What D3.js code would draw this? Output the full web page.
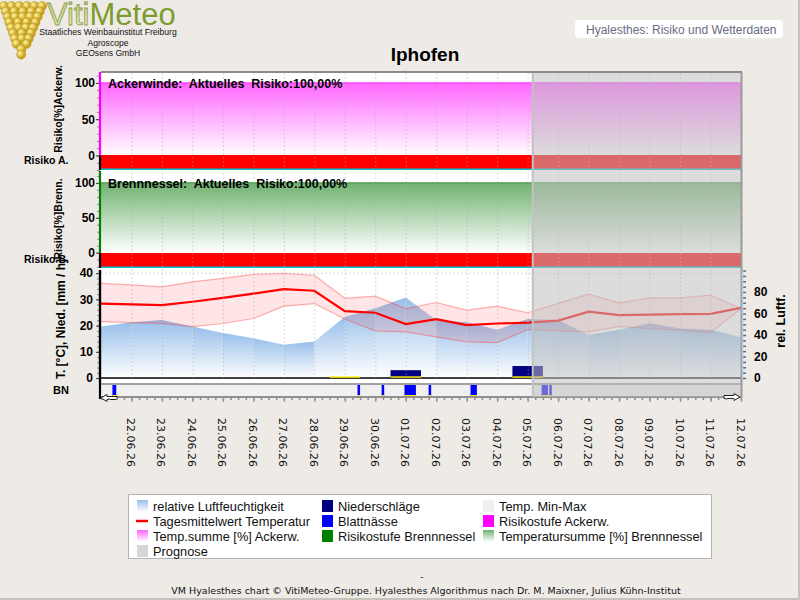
<!DOCTYPE html>
<html>
<head>
<meta charset="utf-8">
<title>Hyalesthes Iphofen</title>
<script src="https://cdn.jsdelivr.net/npm/d3@7/dist/d3.min.js"></script>
<style>
  body { margin: 0; background: #eeebe7; }
  svg { display: block; font-family: "Liberation Sans", Arial, sans-serif; }
</style>
</head>
<body>
<svg id="chart" width="800" height="600"></svg>
<script>
// ---- values ----
var stationName = "Iphofen";
var days = ["21.06.26","22.06.26","23.06.26","24.06.26","25.06.26","26.06.26","27.06.26","28.06.26",
            "29.06.26","30.06.26","01.07.26","02.07.26","03.07.26","04.07.26","05.07.26","06.07.26",
            "07.07.26","08.07.26","09.07.26","10.07.26","11.07.26","12.07.26"];
var tempMean = [28.4, 28.1, 27.8, 29.1, 30.6, 32.2, 33.9, 33.3, 25.5, 24.9, 20.6, 22.5,
                20.2, 20.8, 21.1, 21.9, 25.3, 24.0, 24.2, 24.4, 24.5, 26.8];
var tempMax  = [36.1, 35.5, 34.8, 36.7, 38.0, 39.5, 39.9, 39.2, 30.4, 31.2, 26.5, 28.8,
                25.9, 27.4, 24.9, 28.5, 32.0, 28.7, 30.6, 30.6, 31.6, 26.5];
var tempMin  = [21.5, 21.1, 20.8, 19.6, 20.8, 22.7, 27.4, 28.4, 22.5, 18.0, 17.6, 15.7,
                13.8, 13.5, 18.5, 18.0, 17.6, 19.6, 18.9, 18.3, 17.3, 26.5];
var humidity = [48, 52, 54, 48, 42, 37, 31, 34, 57, 65, 75, 54,
                52, 45, 55, 54, 40, 45, 51, 46, 45, 38];
var precipDays = ["29.06.26", "01.07.26", "05.07.26"];
var precipMm   = [0.2, 3.0, 4.6];
var leafWetStart = ["21.06.26 09:00","29.06.26 10:00","30.06.26 05:00","30.06.26 23:00",
                    "01.07.26 18:00","03.07.26 03:00","05.07.26 11:00","05.07.26 17:00"];
var leafWetHours = [3, 2, 2, 9, 2, 5, 5, 2];
var tempSumAckerw = days.map(function() { return 100; });
var tempSumBrenn  = days.map(function() { return 100; });
var riskLevelAckerw = days.slice(1).map(function() { return "hoch"; });
var riskLevelBrenn  = days.slice(1).map(function() { return "hoch"; });
var forecastStart = "05.07.26 04:00";
var riskTicks = [0, 50, 100];
var tempTicks = [0, 10, 20, 30, 40];
var humTicks  = [0, 20, 40, 60, 80];
var legendLabels = ["relative Luftfeuchtigkeit", "Niederschläge", "Temp. Min-Max",
                    "Tagesmittelwert Temperatur", "Blattnässe", "Risikostufe Ackerw.",
                    "Temp.summe [%] Ackerw.", "Risikostufe Brennnessel", "Temperatursumme [%] Brennnessel",
                    "Prognose"];

var riskColor = { hoch: "#ff0000" };

var svg = d3.select("#chart");
var defs = svg.append("defs");

var parseDay = d3.timeParse("%d.%m.%y"),
    parseHour = d3.timeParse("%d.%m.%y %H:%M");
var dayDates = days.map(parseDay);

var left = 101, right = 741;
var x = d3.scaleTime().domain(d3.extent(dayDates)).range([left, right]);

var yA = d3.scaleLinear().domain([-20, 115]).range([170, 72]);
var yB = d3.scaleLinear().domain([-22, 117]).range([268, 171]);
var yT = d3.scaleLinear().domain([-1.5, 41.2]).range([382, 270]);
var yH = d3.scaleLinear().domain([-3.7, 100.5]).range([382, 270]);
var bnTop = 384, bnBottom = 397;

function vGrad(id, top, bottom) {
    var g = defs.append("linearGradient").attr("id", id)
        .attr("x1", 0).attr("y1", 0).attr("x2", 0).attr("y2", 1);
    g.append("stop").attr("offset", "0%").attr("stop-color", top);
    g.append("stop").attr("offset", "100%").attr("stop-color", bottom);
}
vGrad("gPink", "#ff66ff", "#ffffff");
vGrad("gGreen", "#70b270", "#ffffff");
vGrad("gBlue", "#98bfea", "#ffffff");
vGrad("gViti", "#b9c77a", "#eef3cf");
var rg = defs.append("radialGradient").attr("id", "gGrape").attr("cx", "35%").attr("cy", "35%");
rg.append("stop").attr("offset", "0%").attr("stop-color", "#fff6a0");
rg.append("stop").attr("offset", "100%").attr("stop-color", "#c9a21c");

defs.append("clipPath").attr("id", "plotClip")
    .append("rect").attr("x", left).attr("y", 60).attr("width", right - left).attr("height", 345);

// ---- header ----
var logo = svg.append("g");
for (var r = 0; r < 10; r++) {
    var half = Math.max(3, 19 - r * 2);
    var n = Math.floor(2 * half / 7) + 1;
    for (var k = 0; k < n; k++) {
        var cx = 23 - half + (n > 1 ? k * (2 * half) / (n - 1) : half) - r * 0.2;
        logo.append("circle").attr("cx", cx).attr("cy", 6 + r * 5.4).attr("r", 4.6)
            .attr("fill", "url(#gGrape)").attr("stroke", "#b08a18").attr("stroke-width", 0.4);
    }
}
var vm = svg.append("text").attr("x", 47).attr("y", 25).attr("font-size", 31);
vm.append("tspan").text("Viti").attr("fill", "url(#gViti)").attr("stroke", "#8d9c45").attr("stroke-width", 0.8);
vm.append("tspan").text("Meteo").attr("fill", "#7f9b30");
svg.selectAll(".sub").data(["Staatliches Weinbauinstitut Freiburg", "Agroscope", "GEOsens GmbH"])
    .enter().append("text")
    .attr("x", 108).attr("y", function(d, i) { return 35 + i * 10.5; })
    .attr("text-anchor", "middle").attr("font-size", 8.6).attr("fill", "#111")
    .text(function(d) { return d; });

svg.append("rect").attr("x", 575).attr("y", 20).attr("width", 208).attr("height", 18)
    .attr("rx", 4).attr("fill", "#fff");
svg.append("text").attr("x", 586).attr("y", 33.5).attr("font-size", 12).attr("fill", "#6a6a84")
    .text("Hyalesthes: Risiko und Wetterdaten");

svg.append("text").attr("x", 425).attr("y", 61).attr("text-anchor", "middle")
    .attr("font-size", 19).attr("font-weight", "bold").text(stationName);

// ---- plot background ----
svg.append("rect").attr("x", left).attr("y", 72).attr("width", right - left).attr("height", bnBottom - 72)
    .attr("fill", "#fff");
svg.append("rect").attr("x", left).attr("y", bnTop).attr("width", right - left).attr("height", bnBottom - bnTop)
    .attr("fill", "#f0f0f0");

var plot = svg.append("g").attr("clip-path", "url(#plotClip)");

// risk panels
function riskPanel(y, sums, levels, grad, lineColor, title) {
    var pts = dayDates.map(function(d, i) { return { date: d, v: sums[i] }; });
    plot.append("path").datum(pts)
        .attr("fill", "url(#" + grad + ")")
        .attr("d", d3.area().x(function(d) { return x(d.date); }).y0(y(0)).y1(function(d) { return y(d.v); }));
    plot.append("path").datum(pts).attr("fill", "none").attr("stroke", lineColor).attr("stroke-width", 1.2)
        .attr("d", d3.line().x(function(d) { return x(d.date); }).y(function(d) { return y(d.v); }));
    var bottom = y.range()[0];
    plot.selectAll(null).data(levels).enter().append("rect")
        .attr("x", function(d, i) { return x(dayDates[i]); })
        .attr("width", function(d, i) { return x(dayDates[i + 1]) - x(dayDates[i]); })
        .attr("y", y(0)).attr("height", bottom - 1.5 - y(0))
        .attr("fill", function(d) { return riskColor[d]; })
        .attr("shape-rendering", "crispEdges");
    plot.append("line").attr("x1", left).attr("x2", right).attr("y1", bottom - 0.75).attr("y2", bottom - 0.75)
        .attr("stroke", "#00c4d4").attr("stroke-width", 1.5);
    svg.append("text").attr("x", 108).attr("y", y(100) + 5).attr("font-size", 12.5).attr("font-weight", "bold")
        .style("white-space", "pre").text(title);
}
riskPanel(yA, tempSumAckerw, riskLevelAckerw, "gPink", "#ff3cff", "Ackerwinde:  Aktuelles  Risiko:100,00%");
riskPanel(yB, tempSumBrenn, riskLevelBrenn, "gGreen", "#4e9a4e", "Brennnessel:  Aktuelles  Risiko:100,00%");

// weather panel: humidity as one band per day
for (var i = 0; i < dayDates.length - 1; i++) {
    var seg = [{ date: dayDates[i], v: humidity[i] }, { date: dayDates[i + 1], v: humidity[i + 1] }];
    plot.append("path").datum(seg).attr("fill", "url(#gBlue)")
        .attr("d", d3.area().x(function(d) { return x(d.date); }).y0(yH(0)).y1(function(d) { return yH(d.v); }));
}

var temps = dayDates.map(function(d, i) { return { date: d, mean: tempMean[i], min: tempMin[i], max: tempMax[i] }; });
plot.append("path").datum(temps).attr("fill", "rgba(255,0,0,0.1)")
    .attr("d", d3.area().x(function(d) { return x(d.date); })
        .y0(function(d) { return yT(d.min); }).y1(function(d) { return yT(d.max); }));
["min", "max"].forEach(function(key) {
    plot.append("path").datum(temps).attr("fill", "none").attr("stroke", "rgba(255,60,60,0.4)").attr("stroke-width", 1.2)
        .attr("d", d3.line().x(function(d) { return x(d.date); }).y(function(d) { return yT(d[key]); }));
});

// vertical grid
svg.append("g").selectAll("line").data(dayDates.slice(1, -1)).enter().append("line")
    .attr("x1", function(d) { return x(d) + 0.5; }).attr("x2", function(d) { return x(d) + 0.5; })
    .attr("y1", 73).attr("y2", yT(0))
    .attr("stroke", "rgba(170,170,170,0.45)").attr("stroke-dasharray", "2,2");
svg.append("line").attr("x1", left).attr("x2", right).attr("y1", yT(40)).attr("y2", yT(40))
    .attr("stroke", "rgba(170,170,170,0.45)").attr("stroke-dasharray", "2,2");

// precipitation
var precip = precipDays.map(function(d, i) { return { date: parseDay(d), v: precipMm[i] }; });
plot.selectAll(null).data(precip).enter().append("rect")
    .attr("x", function(d) { return x(d3.timeHour.offset(d.date, -12)); })
    .attr("width", function(d) { return x(d3.timeHour.offset(d.date, 12)) - x(d3.timeHour.offset(d.date, -12)); })
    .attr("y", function(d) { return yT(d.v); })
    .attr("height", function(d) { return yT(0) - yT(d.v); })
    .attr("fill", "#000080");
plot.append("line").attr("x1", left).attr("x2", right).attr("y1", yT(0)).attr("y2", yT(0))
    .attr("stroke", "#000").attr("stroke-width", 1.5);
plot.selectAll(null).data(precip).enter().append("line")
    .attr("x1", function(d) { return x(d3.timeHour.offset(d.date, -12)); })
    .attr("x2", function(d) { return x(d3.timeHour.offset(d.date, 12)); })
    .attr("y1", yT(0) - 1).attr("y2", yT(0) - 1)
    .attr("stroke", "#ffee00").attr("stroke-width", 1.5);

// mean temperature
plot.append("path").datum(temps).attr("fill", "none").attr("stroke", "#ff0000").attr("stroke-width", 2.2)
    .attr("d", d3.line().x(function(d) { return x(d.date); }).y(function(d) { return yT(d.mean); }));

// leaf wetness
var wet = leafWetStart.map(function(s, i) {
    var t0 = parseHour(s);
    return { t0: t0, t1: d3.timeHour.offset(t0, leafWetHours[i]) };
});
plot.selectAll(null).data(wet).enter().append("rect")
    .attr("x", function(d) { return x(d.t0); })
    .attr("width", function(d) { return Math.max(2, x(d.t1) - x(d.t0)); })
    .attr("y", bnTop + 1).attr("height", bnBottom - bnTop - 2)
    .attr("fill", "#0000ff");
plot.selectAll(null).data(wet).enter().append("line")
    .attr("x1", function(d) { return x(d.t0); })
    .attr("x2", function(d) { return x(d.t0) + Math.max(2, x(d.t1) - x(d.t0)); })
    .attr("y1", bnBottom - 1.5).attr("y2", bnBottom - 1.5)
    .attr("stroke", "#ffee00").attr("stroke-width", 1);

// BN strip borders
svg.append("line").attr("x1", left).attr("x2", right).attr("y1", bnTop).attr("y2", bnTop)
    .attr("stroke", "#a0a0a0").attr("stroke-width", 2);
svg.append("line").attr("x1", left).attr("x2", right).attr("y1", bnBottom).attr("y2", bnBottom)
    .attr("stroke", "#909090").attr("stroke-width", 2);

// forecast overlay
var fx = x(parseHour(forecastStart));
svg.append("rect").attr("x", fx).attr("y", 72).attr("width", right - fx).attr("height", bnBottom - 72)
    .attr("fill", "rgba(192,192,192,0.55)");
svg.append("line").attr("x1", fx).attr("x2", fx).attr("y1", 72).attr("y2", bnBottom)
    .attr("stroke", "#c2c2c2").attr("stroke-width", 2);

// frame
svg.append("line").attr("x1", left).attr("x2", right + 1).attr("y1", 72).attr("y2", 72)
    .attr("stroke", "#8a8a8a").attr("stroke-width", 2);
svg.append("line").attr("x1", right + 0.5).attr("x2", right + 0.5).attr("y1", 72).attr("y2", bnBottom + 1)
    .attr("stroke", "#9a9a9a").attr("stroke-width", 2);

// scroll arrows
function arrow(cx, cy, dir) {
    var p = [[-8, -1.5], [2, -1.5], [2, -3.5], [8, 0], [2, 3.5], [2, 1.5], [-8, 1.5]];
    svg.append("path")
        .attr("d", d3.line()(p.map(function(q) { return [cx + dir * q[0], cy + q[1]]; })) + "Z")
        .attr("fill", "#fff").attr("stroke", "#222").attr("stroke-width", 1);
}
arrow(109, 398, -1);
arrow(732, 397, 1);

// ---- left axes ----
function leftAxis(y, minor, major, topColor, top, pad) {
    var g = svg.append("g").attr("transform", "translate(100,0)");
    g.call(d3.axisLeft(y).tickValues(minor).tickSize(3).tickFormat(""))
        .call(function(s) { s.select(".domain").remove(); s.selectAll("line").attr("stroke", "#8a8a8a"); });
    var g2 = svg.append("g").attr("transform", "translate(100,0)");
    g2.call(d3.axisLeft(y).tickValues(major).tickSize(4).tickPadding(pad))
        .call(function(s) {
            s.select(".domain").remove();
            s.selectAll("line").attr("stroke", "#444");
            s.selectAll("text").attr("font-size", 12).attr("font-weight", "bold").attr("fill", "#000")
                .attr("font-family", "'Liberation Sans', Arial, sans-serif");
        });
    svg.append("line").attr("x1", 100).attr("x2", 100).attr("y1", top).attr("y2", y(0))
        .attr("stroke", topColor).attr("stroke-width", 2.2);
    svg.append("line").attr("x1", 100).attr("x2", 100).attr("y1", y(0)).attr("y2", y.range()[0])
        .attr("stroke", "#000").attr("stroke-width", 2.2);
}
leftAxis(yA, d3.range(-20, 111, 10), riskTicks, "#ff00ff", 72, 1);
leftAxis(yB, d3.range(-20, 111, 10), riskTicks, "#008000", 171, 1);
leftAxis(yT, d3.range(0, 41, 2), tempTicks, "#000", 270, 3);
svg.append("line").attr("x1", 100).attr("x2", 100).attr("y1", 270).attr("y2", bnBottom + 2)
    .attr("stroke", "#000").attr("stroke-width", 2.2);

// right axis (humidity)
var gr = svg.append("g").attr("transform", "translate(743,0)");
gr.call(d3.axisRight(yH).tickValues(d3.range(0, 101, 5)).tickSize(3).tickFormat(""))
    .call(function(s) { s.select(".domain").remove(); s.selectAll("line").attr("stroke", "#666").attr("stroke-width", 1.5); });
var gr2 = svg.append("g").attr("transform", "translate(743,0)");
gr2.call(d3.axisRight(yH).tickValues(humTicks).tickSize(0).tickPadding(11))
    .call(function(s) {
        s.select(".domain").remove();
        s.selectAll("text").attr("font-size", 12).attr("font-weight", "bold").attr("fill", "#000")
            .attr("font-family", "'Liberation Sans', Arial, sans-serif");
    });
svg.append("line").attr("x1", 742.5).attr("x2", 742.5).attr("y1", 270).attr("y2", yH(0))
    .attr("stroke", "#a9c9f2").attr("stroke-width", 1.5);

// axis titles
function vLabel(text, px, py, size, rot) {
    svg.append("text").attr("transform", "translate(" + px + "," + py + ") rotate(" + rot + ")")
        .attr("text-anchor", "middle").attr("font-size", size).attr("font-weight", "bold").text(text);
}
vLabel("Risiko[%]Ackerw.", 62, 109, 10.5, -90);
vLabel("Risiko[%]Brenn.", 62, 219, 10.5, -90);
vLabel("T. [°C], Nied. [mm / h]", 65, 319, 12, -90);
vLabel("rel. Luftf.", 785, 321, 12.5, -90);
svg.append("text").attr("x", 24).attr("y", yA(0) + 9).attr("font-size", 10.5).attr("font-weight", "bold").text("Risiko A.");
svg.append("text").attr("x", 24).attr("y", yB(0) + 10).attr("font-size", 10.5).attr("font-weight", "bold").text("Risiko B.");
svg.append("text").attr("x", 53).attr("y", 394).attr("font-size", 11).attr("font-weight", "bold").text("BN");

// ---- time axis ----
var gx = svg.append("g").attr("transform", "translate(0," + (bnBottom + 1) + ")");
gx.call(d3.axisBottom(x).ticks(d3.timeHour.every(6)).tickSize(2).tickFormat(""))
    .call(function(s) { s.select(".domain").remove(); s.selectAll("line").attr("stroke", "#8a8a8a").attr("stroke-width", 1.5); });
var gx2 = svg.append("g").attr("transform", "translate(0," + (bnBottom + 1) + ")");
gx2.call(d3.axisBottom(x).tickValues(dayDates.slice(1)).tickSize(4).tickFormat(d3.timeFormat("%d.%m.%y")))
    .call(function(s) {
        s.select(".domain").remove();
        s.selectAll("line").attr("stroke", "#9a9a9a").attr("stroke-width", 1.5);
        s.selectAll("text").attr("transform", "rotate(90)").attr("x", 20).attr("y", 0).attr("dy", "0.45em")
            .attr("text-anchor", "start").attr("font-size", 11).attr("fill", "#111")
            .attr("font-family", "'DejaVu Sans', sans-serif");
    });

// ---- legend ----
var lg = svg.append("g");
lg.append("rect").attr("x", 128.5).attr("y", 494.5).attr("width", 583).attr("height", 64)
    .attr("fill", "#fff").attr("stroke", "#b4b4b4");
var colX = [137, 322, 483], rowY = [506, 521, 536, 551];
var swatches = ["url(#gBlue)", "#000080", "#f0f0f0", "line", "#0000ff", "#ff00ff",
                "url(#gPink)", "#008000", "url(#gGreen)", "#d6d6d6"];
legendLabels.forEach(function(label, i) {
    var cx0 = colX[i % 3], cy0 = rowY[Math.floor(i / 3)];
    if (swatches[i] === "line") {
        lg.append("line").attr("x1", cx0 - 1).attr("x2", cx0 + 11).attr("y1", cy0).attr("y2", cy0)
            .attr("stroke", "#ff0000").attr("stroke-width", 2.5);
    } else {
        lg.append("rect").attr("x", cx0).attr("y", cy0 - 6).attr("width", 11).attr("height", 12)
            .attr("fill", swatches[i]);
    }
    lg.append("text").attr("x", cx0 + 16).attr("y", cy0 + 4.5).attr("font-size", 12.8).attr("fill", "#111")
        .text(label);
});

// ---- footer ----
svg.append("text").attr("x", 422).attr("y", 580).attr("font-size", 9).attr("text-anchor", "middle").text("-");
svg.append("text").attr("x", 426).attr("y", 594).attr("text-anchor", "middle")
    .attr("font-family", "'DejaVu Sans', sans-serif").attr("font-size", 9.5).attr("fill", "#111")
    .text("VM Hyalesthes chart © VitiMeteo-Gruppe. Hyalesthes Algorithmus nach Dr. M. Maixner, Julius Kühn-Institut");
svg.append("line").attr("x1", 0).attr("x2", 800).attr("y1", 599).attr("y2", 599).attr("stroke", "#c6c3bf").attr("stroke-width", 2);
svg.append("line").attr("x1", 799).attr("x2", 799).attr("y1", 0).attr("y2", 600).attr("stroke", "#c6c3bf").attr("stroke-width", 2);
</script>
</body>
</html>
